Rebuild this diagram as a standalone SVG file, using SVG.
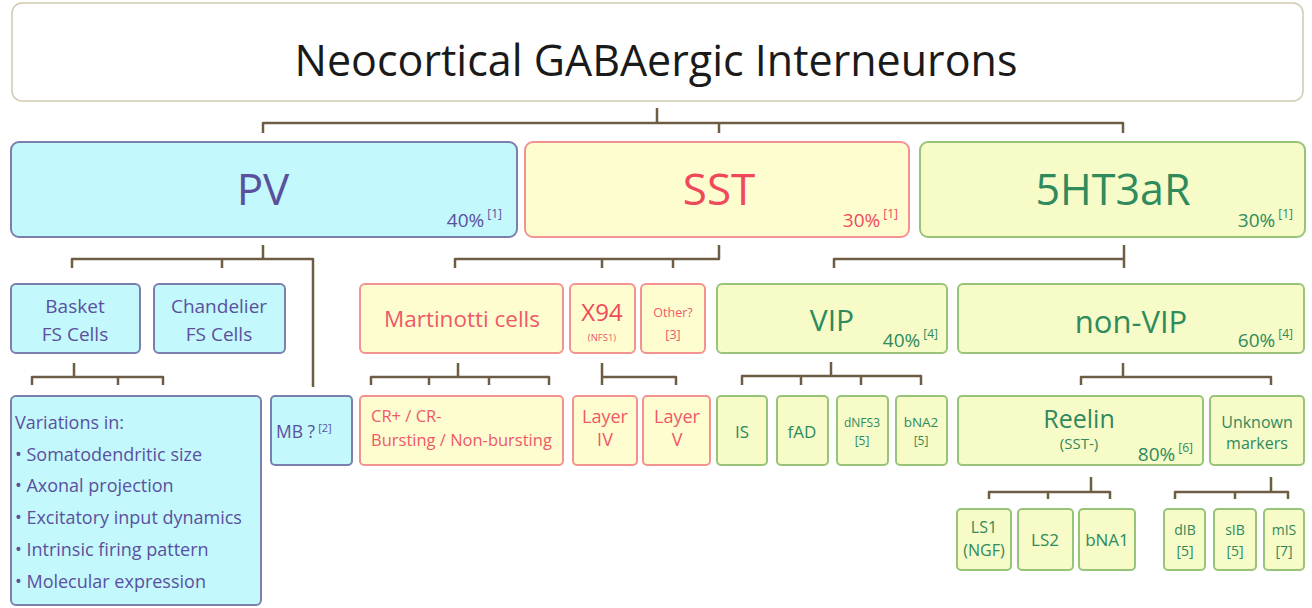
<svg xmlns="http://www.w3.org/2000/svg" width="1312" height="608" viewBox="0 0 1312 608">
<style>
text{font-family:"Open Sans","Noto Sans","Liberation Sans",sans-serif}
.c{text-anchor:middle}
.e{text-anchor:end}
.b{font-weight:500}
.pv rect{fill:#c3f8fc;stroke:#7a7fae;stroke-width:2}
.pv text{fill:#5b509e}
.sst rect{fill:#fdfdd0;stroke:#f49292;stroke-width:2}
.sst text{fill:#f04a5a}
.sst text.l{fill:#f05868}
.ht rect{fill:#f6fbc8;stroke:#98c47a;stroke-width:2}
.ht text{fill:#2f8a5c}
.sup{font-size:12px}
#connectors path{fill:none;stroke:#6e5c45;stroke-width:2.5;stroke-linejoin:round}
</style>
<rect width="1312" height="608" fill="#ffffff"/>
<g id="connectors">
<path d="M657,108 V123 M263,133 V123 H1123 V133 M719,123 V133"/>
<path d="M263,245 V259 M72,268 V259 H313 V387 M222,259 V268"/>
<path d="M719,245 V259 H455 V268 M602,259 V268 M673,259 V268"/>
<path d="M1124,245 V268 M1124,259 H834 V268"/>
<path d="M74,363 V377 M32,385 V377 H163 V385 M118,377 V385"/>
<path d="M458,363 V377 M371,385 V377 H549 V385 M429,377 V385 M489,377 V385"/>
<path d="M602,363 V385 M602,377 H676 V385"/>
<path d="M831,362 V376 M742,385 V376 H921 V385 M801,376 V385 M861,376 V385"/>
<path d="M1123,363 V377 M1081,385 V377 H1271 V385"/>
<path d="M1091,477 V492 M989,499 V492 H1110 V499 M1048,492 V499"/>
<path d="M1271,477 V492 M1175,499 V492 H1288 V499 M1235,492 V499"/>
</g>
<g id="title">
<rect x="12" y="3" width="1291" height="98" rx="10" fill="#ffffff" stroke="#cfcab0" stroke-width="1.5"/>
<text class="c" x="656" y="76" font-size="43" fill="#1a1a1a">Neocortical GABAergic Interneurons</text>
</g>
<g id="pv" class="pv">
<rect x="11" y="142" width="506" height="95" rx="8"/>
<text class="c" x="263" y="205" font-size="44">PV</text>
<text class="e" x="502" y="227" font-size="19">40%<tspan class="sup" dx="3" dy="-9">[1]</tspan></text>
</g>
<g id="sst" class="sst">
<rect x="525" y="142" width="384" height="95" rx="8"/>
<text class="c" x="719" y="205" font-size="44">SST</text>
<text class="e" x="898" y="227" font-size="19">30%<tspan class="sup" dx="3" dy="-9">[1]</tspan></text>
</g>
<g id="ht3ar" class="ht">
<rect x="920" y="142" width="385" height="95" rx="8"/>
<text class="c" x="1113" y="205" font-size="43">5HT3aR</text>
<text class="e" x="1293" y="227" font-size="19">30%<tspan class="sup" dx="3" dy="-9">[1]</tspan></text>
</g>
<g id="basket" class="pv">
<rect x="11" y="284" width="129" height="69" rx="5"/>
<text class="c b" x="75" y="313" font-size="19">Basket</text>
<text class="c b" x="75" y="341" font-size="19">FS Cells</text>
</g>
<g id="chandelier" class="pv">
<rect x="154" y="284" width="131" height="69" rx="5"/>
<text class="c b" x="219" y="313" font-size="19">Chandelier</text>
<text class="c b" x="219" y="341" font-size="19">FS Cells</text>
</g>
<g id="martinotti" class="sst">
<rect x="360" y="284" width="203" height="69" rx="5"/>
<text class="c b l" x="462" y="327" font-size="22.5">Martinotti cells</text>
</g>
<g id="x94" class="sst">
<rect x="570" y="284" width="65" height="69" rx="5"/>
<text class="c" x="602" y="321" font-size="24">X94</text>
<text class="c l" x="602" y="341" font-size="9.5">(NFS1)</text>
</g>
<g id="other" class="sst">
<rect x="641" y="284" width="64" height="69" rx="5"/>
<text class="c l" x="673" y="317" font-size="12.5">Other?</text>
<text class="c l" x="673" y="339" font-size="12.5">[3]</text>
</g>
<g id="vip" class="ht">
<rect x="717" y="284" width="230" height="69" rx="5"/>
<text class="c" x="832" y="331" font-size="30">VIP</text>
<text class="e" x="938" y="347" font-size="19">40%<tspan class="sup" dx="3" dy="-9">[4]</tspan></text>
</g>
<g id="nonvip" class="ht">
<rect x="958" y="284" width="346" height="69" rx="5"/>
<text class="c" x="1131" y="333" font-size="31">non-VIP</text>
<text class="e" x="1293" y="347" font-size="19">60%<tspan class="sup" dx="3" dy="-9">[4]</tspan></text>
</g>
<g id="variations" class="pv">
<rect x="11" y="396" width="250" height="209" rx="5"/>
<text class="b" x="15" y="429" font-size="18">Variations in:</text>
<text class="b" x="15" y="461" font-size="18">• Somatodendritic size</text>
<text class="b" x="15" y="492" font-size="18">• Axonal projection</text>
<text class="b" x="15" y="524" font-size="18">• Excitatory input dynamics</text>
<text class="b" x="15" y="556" font-size="18">• Intrinsic firing pattern</text>
<text class="b" x="15" y="588" font-size="18">• Molecular expression</text>
</g>
<g id="mb" class="pv">
<rect x="271" y="396" width="81" height="69" rx="4"/>
<text class="b" x="276" y="438" font-size="17.5">MB ?<tspan font-size="11" dx="3" dy="-6">[2]</tspan></text>
</g>
<g id="cr" class="sst">
<rect x="360" y="396" width="203" height="69" rx="4"/>
<text class="b l" x="371" y="422" font-size="16.5">CR+ / CR-</text>
<text class="b l" x="371" y="446" font-size="16.5">Bursting / Non-bursting</text>
</g>
<g id="layer4" class="sst">
<rect x="573" y="396" width="64" height="69" rx="4"/>
<text class="c b l" x="605" y="423" font-size="18">Layer</text>
<text class="c b l" x="605" y="446" font-size="18">IV</text>
</g>
<g id="layer5" class="sst">
<rect x="643" y="396" width="67" height="69" rx="4"/>
<text class="c b l" x="677" y="423" font-size="18">Layer</text>
<text class="c b l" x="677" y="446" font-size="18">V</text>
</g>
<g id="is" class="ht">
<rect x="717" y="396" width="50" height="69" rx="4"/>
<text class="c" x="742" y="438" font-size="17">IS</text>
</g>
<g id="fad" class="ht">
<rect x="777" y="396" width="51" height="69" rx="4"/>
<text class="c" x="802" y="438" font-size="17">fAD</text>
</g>
<g id="dnfs3" class="ht">
<rect x="837" y="396" width="51" height="69" rx="4"/>
<text class="c" x="862" y="427" font-size="12">dNFS3</text>
<text class="c" x="862" y="445" font-size="12">[5]</text>
</g>
<g id="bna2" class="ht">
<rect x="896" y="396" width="51" height="69" rx="4"/>
<text class="c" x="921" y="427" font-size="13.5">bNA2</text>
<text class="c" x="921" y="445" font-size="12">[5]</text>
</g>
<g id="reelin" class="ht">
<rect x="958" y="396" width="245" height="69" rx="4"/>
<text class="c" x="1079" y="428" font-size="25">Reelin</text>
<text class="c" x="1079" y="449" font-size="15">(SST-)</text>
<text class="e" x="1193" y="461" font-size="19">80%<tspan class="sup" dx="3" dy="-9">[6]</tspan></text>
</g>
<g id="unknown" class="ht">
<rect x="1210" y="396" width="94" height="69" rx="4"/>
<text class="c" x="1257" y="428" font-size="16">Unknown</text>
<text class="c" x="1257" y="449" font-size="16">markers</text>
</g>
<g id="ls1" class="ht">
<rect x="957" y="509" width="54" height="61" rx="4"/>
<text class="c" x="984" y="533" font-size="16">LS1</text>
<text class="c" x="984" y="556" font-size="16">(NGF)</text>
</g>
<g id="ls2" class="ht">
<rect x="1018" y="509" width="55" height="61" rx="4"/>
<text class="c" x="1045" y="546" font-size="17">LS2</text>
</g>
<g id="bna1" class="ht">
<rect x="1079" y="509" width="56" height="61" rx="4"/>
<text class="c" x="1107" y="546" font-size="17">bNA1</text>
</g>
<g id="dib" class="ht">
<rect x="1164" y="509" width="41" height="61" rx="4"/>
<text class="c" x="1185" y="535" font-size="14">dIB</text>
<text class="c" x="1185" y="556" font-size="14">[5]</text>
</g>
<g id="sib" class="ht">
<rect x="1214" y="509" width="42" height="61" rx="4"/>
<text class="c" x="1235" y="535" font-size="14">sIB</text>
<text class="c" x="1235" y="556" font-size="14">[5]</text>
</g>
<g id="mis" class="ht">
<rect x="1264" y="509" width="40" height="61" rx="4"/>
<text class="c" x="1284" y="535" font-size="14">mIS</text>
<text class="c" x="1284" y="556" font-size="14">[7]</text>
</g>
</svg>
